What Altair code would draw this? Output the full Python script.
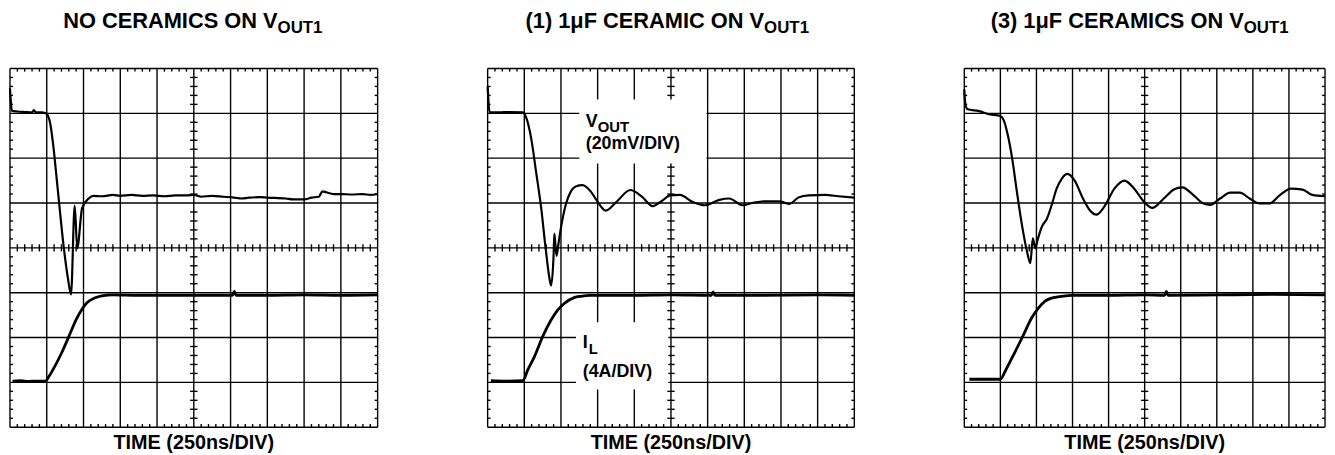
import altair as alt
import pandas as pd

# ---------------- data (x in divisions, 250ns/DIV; y in divisions) ----------------
p1_vout_t = [0.0, 0.02, 0.05, 0.2, 0.4, 0.6, 0.65, 0.7, 0.85, 0.97, 1.03, 1.1, 1.16, 1.3, 1.45, 1.58, 1.66,
             1.76, 1.83, 1.96, 2.14, 2.27, 2.5, 2.8, 3.0, 3.3, 3.6, 3.9, 4.2, 4.5, 4.8, 5.0, 5.2, 5.5, 5.8,
             6.1, 6.3, 6.5, 6.8, 7.0, 7.5, 7.7, 8.0, 8.2, 8.4, 8.5, 8.6, 8.8, 9.0, 9.3, 9.6, 9.8, 10.0]
p1_vout_v = [7.56, 7.3, 7.06, 7.04, 7.03, 7.02, 7.07, 7.02, 7.02, 7.0, 6.95, 6.75, 6.4, 5.3, 4.1, 3.3, 2.96,
             4.94, 3.99, 4.88, 5.1, 5.16, 5.15, 5.18, 5.16, 5.18, 5.16, 5.17, 5.15, 5.17, 5.17, 5.18, 5.14, 5.16, 5.14,
             5.12, 5.1, 5.12, 5.13, 5.12, 5.1, 5.08, 5.08, 5.12, 5.14, 5.26, 5.24, 5.2, 5.2, 5.19, 5.2, 5.18, 5.2]
p1_il_t = [0.07, 0.3, 0.5, 0.7, 0.97, 1.05, 1.2, 1.4, 1.6, 1.8, 1.95, 2.1, 2.3, 2.5, 2.8, 3.5, 4.5, 6.05, 6.1, 6.15,
           7.0, 8.0, 9.0, 10.0]
p1_il_v = [1.03, 1.04, 1.02, 1.03, 1.03, 1.12, 1.33, 1.65, 2.02, 2.4, 2.62, 2.78, 2.88, 2.93, 2.95, 2.94, 2.94,
           2.94, 3.03, 2.94, 2.94, 2.95, 2.94, 2.95]

p2_vout_t = [0.0, 0.02, 0.05, 0.3, 0.6, 0.96, 1.05, 1.19, 1.32, 1.46, 1.59, 1.68, 1.73, 1.8, 1.82, 1.88, 1.93,
             2.0, 2.13, 2.27, 2.4, 2.59, 2.81, 2.99, 3.22, 3.53, 3.89, 4.2, 4.5, 4.79, 4.97, 5.24, 5.6, 5.92,
             6.32, 6.59, 6.95, 7.22, 7.58, 7.95, 8.22, 8.49, 8.76, 9.21, 9.57, 10.0]
p2_vout_v = [7.6, 7.3, 7.03, 7.02, 7.03, 7.02, 6.91, 6.43, 5.7, 4.89, 3.93, 3.35, 3.16, 3.86, 4.32, 3.82, 4.08,
             4.45, 4.96, 5.26, 5.37, 5.40, 5.26, 5.04, 4.83, 5.04, 5.29, 5.15, 4.93, 5.07, 5.17, 5.18, 5.02, 4.95,
             5.07, 5.10, 4.95, 5.0, 5.04, 5.04, 4.98, 5.13, 5.17, 5.18, 5.15, 5.12]
p2_il_t = [0.09, 0.5, 0.96, 1.1, 1.28, 1.5, 1.73, 1.91, 2.09, 2.36, 2.54, 2.8, 4.0, 5.0, 6.1, 6.15, 6.2, 7.5,
           9.0, 10.0]
p2_il_v = [1.04, 1.03, 1.04, 1.29, 1.58, 2.02, 2.39, 2.61, 2.76, 2.89, 2.92, 2.94, 2.94, 2.95, 2.94, 3.02, 2.94,
           2.94, 2.95, 2.94]

p3_vout_t = [0.0, 0.03, 0.09, 0.41, 0.69, 1.0, 1.1, 1.19, 1.33, 1.46, 1.6, 1.74, 1.83, 1.9, 1.97, 2.03, 2.15,
             2.29, 2.42, 2.56, 2.7, 2.86, 3.06, 3.29, 3.48, 3.66, 3.89, 4.16, 4.44, 4.71, 4.99, 5.21, 5.53, 5.81,
             6.04, 6.36, 6.63, 6.82, 7.09, 7.37, 7.64, 7.91, 8.19, 8.46, 8.74, 9.06, 9.38, 9.65, 10.0]
p3_vout_v = [7.53, 7.2, 7.09, 7.05, 6.98, 6.94, 6.83, 6.57, 5.98, 5.24, 4.5, 3.91, 3.66, 4.21, 3.99, 4.17, 4.47,
             4.65, 4.95, 5.32, 5.54, 5.65, 5.5, 5.1, 4.84, 4.74, 4.93, 5.32, 5.5, 5.32, 5.02, 4.89, 5.1, 5.3,
             5.35, 5.17, 4.99, 4.96, 5.1, 5.23, 5.23, 5.1, 4.99, 4.99, 5.17, 5.32, 5.3, 5.18, 5.15]
p3_il_t = [0.14, 0.5, 1.0, 1.14, 1.37, 1.6, 1.87, 2.06, 2.24, 2.42, 2.7, 3.0, 4.0, 5.0, 5.55, 5.6, 5.65, 7.0,
           8.5, 10.0]
p3_il_v = [1.07, 1.07, 1.07, 1.26, 1.62, 1.99, 2.44, 2.66, 2.81, 2.88, 2.92, 2.94, 2.94, 2.95, 2.94, 3.03, 2.94,
           2.95, 2.96, 2.95]

titles_main = ["NO CERAMICS ON V", "(1) 1\u03bcF CERAMIC ON V", "(3) 1\u03bcF CERAMICS ON V"]
title_sub = "OUT1"
x_label = "TIME (250ns/DIV)"
vout_label = ["V", "OUT", "(20mV/DIV)"]
il_label = ["I", "L", "(4A/DIV)"]

# white label boxes in panel 2 (division units)
box_x = [2.5, 2.41]
box_x2 = [5.97, 4.93]
box_y = [5.88, 0.84]
box_y2 = [7.31, 2.34]

# ---------------- layout ----------------
WIDTHS = [371, 370, 364]
H = 362
split_x = [270, 279, 282]   # where main title text ends and the subscript starts

FONT = "Liberation Sans"


def grid_df():
    rows = []
    for i in range(11):
        rows.append(dict(x=i, x2=i, y=0, y2=8))
    for j in range(9):
        rows.append(dict(x=0, x2=10, y=j, y2=j))
    for k in range(51):
        if k % 5:
            xv = k * 0.2
            rows.append(dict(x=xv, x2=xv, y=8, y2=7.93))
            rows.append(dict(x=xv, x2=xv, y=0, y2=0.07))
            rows.append(dict(x=xv, x2=xv, y=3.92, y2=4.08))
    for k in range(41):
        if k % 5:
            yv = k * 0.2
            rows.append(dict(x=0, x2=0.08, y=yv, y2=yv))
            rows.append(dict(x=10, x2=9.92, y=yv, y2=yv))
            rows.append(dict(x=4.9, x2=5.1, y=yv, y2=yv))
    return pd.DataFrame(rows)


XS = alt.Scale(domain=[0, 10], nice=False, zero=False)
YS = alt.Scale(domain=[0, 8], nice=False, zero=False)


def text_layer(txt, x, y, size, align="left"):
    return alt.Chart(pd.DataFrame({"t": [txt]})).mark_text(
        font=FONT, fontWeight="bold", fontSize=size, align=align, baseline="alphabetic", color="black"
    ).encode(x=alt.value(x), y=alt.value(y), text="t:N")


def trace_layer(t, v, width):
    df = pd.DataFrame({"t": list(t), "v": list(v), "o": list(range(len(t)))})
    return alt.Chart(df).mark_line(color="black", strokeWidth=width, strokeJoin="round",
                                   interpolate="monotone").encode(
        x=alt.X("t:Q", scale=XS, axis=None),
        y=alt.Y("v:Q", scale=YS, axis=None),
        order="o:Q")


def panel(idx, vt, vv, it, iv, boxes=False):
    W = WIDTHS[idx]
    grid = alt.Chart(grid_df()).mark_rule(color="black", strokeWidth=1.4).encode(
        x=alt.X("x:Q", scale=XS, axis=None), x2="x2:Q",
        y=alt.Y("y:Q", scale=YS, axis=None), y2="y2:Q")
    layers = [grid]
    if boxes:
        bx = pd.DataFrame({"x": box_x, "x2": box_x2, "y": box_y, "y2": box_y2})
        layers.append(alt.Chart(bx).mark_rect(color="white", opacity=1).encode(
            x=alt.X("x:Q", scale=XS, axis=None), x2="x2:Q",
            y=alt.Y("y:Q", scale=YS, axis=None), y2="y2:Q"))
    layers.append(trace_layer(vt, vv, 2.2))
    layers.append(trace_layer(it, iv, 2.8))
    sx = split_x[idx]
    layers.append(text_layer(titles_main[idx], sx, -41, 22, align="right"))
    layers.append(text_layer(title_sub, sx, -36, 17, align="left"))
    layers.append(text_layer(x_label, W / 2, 384, 20, align="center"))
    if boxes:
        layers.append(text_layer(vout_label[0], 99, 59, 18))
        layers.append(text_layer(vout_label[1], 111, 64, 15))
        layers.append(text_layer(vout_label[2], 99, 81, 18))
        layers.append(text_layer(il_label[0], 96, 282, 18))
        layers.append(text_layer(il_label[1], 102, 288, 15))
        layers.append(text_layer(il_label[2], 96, 311, 18))
    return alt.layer(*layers).properties(width=W, height=H)


p1 = panel(0, p1_vout_t, p1_vout_v, p1_il_t, p1_il_v)
p2 = panel(1, p2_vout_t, p2_vout_v, p2_il_t, p2_il_v, boxes=True)
p3 = panel(2, p3_vout_t, p3_vout_v, p3_il_t, p3_il_v)

chart = alt.hconcat(p1, p2, p3, spacing=107).properties(padding=0).configure_view(stroke=None)
chart.save("out.html", embed_options={"renderer": "svg", "actions": False})
